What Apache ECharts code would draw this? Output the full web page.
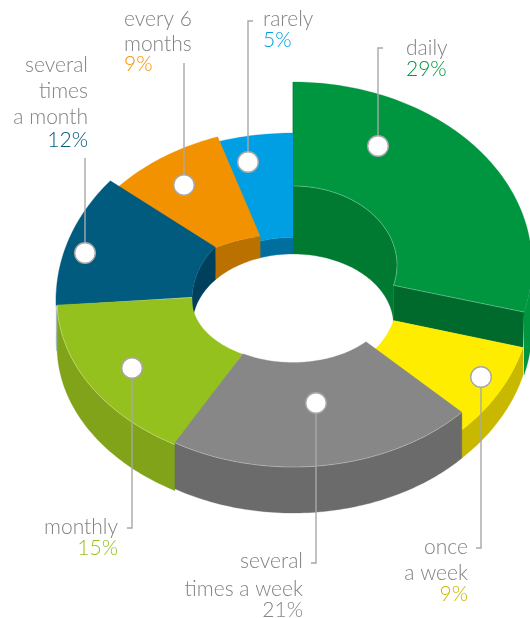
<!DOCTYPE html>
<html>
<head>
<meta charset="utf-8">
<style>html,body{margin:0;padding:0;background:#fff}#chart{width:530px;height:618px}</style>
<script src="https://cdn.jsdelivr.net/npm/echarts@6/dist/echarts.min.js"></script>
</head>
<body>
<div id="chart"></div>
<script>
// ---- data ----
var categories = ['daily', 'once\na week', 'several\ntimes a week', 'monthly', 'several\ntimes\na month', 'every 6\nmonths', 'rarely'];
var values = [29, 9, 21, 15, 12, 9, 5];

// ---- styles ----
var topColors   = ['#009640', '#ffed00', '#878787', '#95c11f', '#005b7f', '#f39200', '#009fe3'];
var outerColors = ['#009640', '#c8b800', '#6b6b6b', '#80a31a', '#7fa6ba', null, null];
var innerColors = ['#007a30', null, null, null, '#00405c', '#bb7100', '#006f9f'];
var pctColors   = ['#009640', '#c8b800', '#878787', '#95c11f', '#005b7f', '#f39200', '#009fe3'];
var sideColor = '#006a2c';
var textColor = '#828282';
var lineColor = '#a8a8a8';
var textFont = '300 21px Lato';
var baselineDrop = 4.5;

// ---- drawing geometry of the tilted ring ----
var CX = 293;
var hole = {cy: 325, rx: 100.5, ry: 71};
// o/i: outer and inner ellipse radii of the top face; nudges are small angle offsets in degrees
var shapes = [
  {cy: 265, o: [239, 183],   i: [104, 79],  ns: 0,    ne: 0.5, ins: 0,    ine: 0.5, base: 328, wallFrom: 90, holeMax: 90},
  {cy: 300, o: [238, 184.5], i: [104, 80],  ns: 0.5,  ne: -2,  ins: 0.5,  ine: -2,  base: 328},
  {cy: 300, o: [228, 167],   i: [98, 62.5], ns: -4.6, ne: -1.2, ins: -5,  ine: -1.7, base: 346},
  {cy: 300, o: [236, 167],   i: [101, 62.5], ns: -2.4, ne: 1.9, ins: -2.4, ine: 5.6, base: 346},
  {cy: 300, o: [237, 187],   i: [101, 83],  ns: 1.9,  ne: 0,   ins: 5.6,  ine: 0,   base: 338, wallFrom: 266, wallSpan: 4},
  {cy: 300, o: [231.3, 172.6], i: [127, 66], ns: 0,   ne: -1,  ins: 11.9, ine: 3},
  {cy: 300, o: [236, 167],   i: [98, 62.5], ns: -2,   ne: 0,   ins: -3,   ine: 0}
];
var drawOrder = [0, 6, 5, 4, 1, 3, 2];

// ---- callouts: dot, leader polyline, text baselines ----
var callouts = [
  {dot: [378, 146], line: [[378, 146], [378, 48], [383, 48]],   x: 406, align: 'left',  names: [54],           pct: 75},
  {dot: [481, 377], line: [[481, 377], [481, 548], [476, 548]], x: 468, align: 'right', names: [553, 579],      pct: 600},
  {dot: [316, 403], line: [[316, 403], [316, 563], [311, 563]], x: 303, align: 'right', names: [567, 595],      pct: 616},
  {dot: [132, 368], line: [[132, 368], [132, 528], [127, 528]], x: 118, align: 'right', names: [533],           pct: 554},
  {dot: [85, 253],  line: [[85, 253], [85, 158]],               x: 88,  align: 'right', names: [71, 97, 123],   pct: 146},
  {dot: [184, 185], line: [[184, 185], [184, 63]],              x: 124, align: 'left',  names: [25, 50],        pct: 70},
  {dot: [248, 162], line: [[248, 162], [248, 21], [253, 21]],   x: 263, align: 'left',  names: [25],            pct: 46}
];

// ---- helpers ----
var toDeg = function (v) { return echarts.number.linearMap(v, [0, 100], [0, 360]); };
var cum = [0];
values.forEach(function (v, i) { cum.push(cum[i] + v); });

function pt(theta, cy, r) {
  var a = theta * Math.PI / 180;
  return [CX + r[0] * Math.sin(a), cy - r[1] * Math.cos(a)];
}
function arc(from, to, cy, r) {
  var n = Math.max(2, Math.ceil(Math.abs(to - from))), out = [];
  for (var k = 0; k <= n; k++) out.push(pt(from + (to - from) * k / n, cy, r));
  return out;
}
function poly(points, fill) {
  return {type: 'polygon', shape: {points: points}, style: {fill: fill, stroke: fill, lineWidth: 0.3}};
}
function edge(points) {
  return {type: 'polyline', shape: {points: points}, style: {fill: null, stroke: 'rgba(255,255,255,0.4)', lineWidth: 0.7}};
}
function label(x, baseline, text, fill, align) {
  return {type: 'text', x: x, y: baseline + baselineDrop, style: {
    text: text, fill: fill, font: textFont, align: align, verticalAlign: 'bottom'
  }};
}

function renderSlice(params, api) {
  var idx = api.value(1);
  var s = shapes[idx];
  var a0 = toDeg(cum[idx]);
  var a1 = a0 + toDeg(api.value(0));
  var os = a0 + s.ns, oe = a1 + s.ne, is = a0 + s.ins, ie = a1 + s.ine;
  var kids = [];
  // inner wall (far side of the hole)
  if (innerColors[idx]) {
    var he = s.holeMax ? Math.min(oe, s.holeMax) : oe;
    kids.push(poly(arc(is, ie, s.cy, s.i).concat(arc(he, os, hole.cy, [hole.rx, hole.ry])), innerColors[idx]));
  }
  // outer wall
  if (outerColors[idx]) {
    var wf = s.wallFrom !== undefined ? s.wallFrom : os;
    var wt = s.wallSpan ? os + s.wallSpan : oe;
    kids.push(poly(arc(wf, wt, s.cy, s.o).concat(arc(wt, wf, s.base, s.o)), outerColors[idx]));
  }
  // raised slice: end face down to the neighbouring slice
  var next = shapes[(idx + 1) % shapes.length];
  if (s.cy !== next.cy) {
    kids.push(poly([pt(ie, s.cy, s.i), pt(oe, s.cy, s.o), pt(oe, next.cy, next.o), pt(ie, next.cy, next.i)], sideColor));
  }
  // top face
  var top = arc(os, oe, s.cy, s.o).concat(arc(ie, is, s.cy, s.i));
  kids.push(poly(top, topColors[idx]));
  if (idx === 0) {
    kids.push(edge(arc(is, ie, s.cy, s.i)));
    kids.push(edge([pt(ie, s.cy, s.i), pt(oe, s.cy, s.o)]));
  }
  if (idx === 2 || idx === 3) kids.push(edge(arc(os, oe, s.cy, s.o)));
  return {type: 'group', children: kids};
}

function renderCallout(params, api) {
  var idx = api.value(1);
  var c = callouts[idx];
  var kids = [
    {type: 'polyline', shape: {points: c.line}, style: {fill: null, stroke: lineColor, lineWidth: 1.4}},
    {type: 'circle', shape: {cx: c.dot[0], cy: c.dot[1], r: 10.3}, style: {fill: '#fff', stroke: lineColor, lineWidth: 1.4}}
  ];
  categories[idx].split('\n').forEach(function (t, k) {
    kids.push(label(c.x, c.names[k], t, textColor, c.align));
  });
  kids.push(label(c.x, c.pct, api.value(0) + '%', pctColors[idx], c.align));
  return {type: 'group', children: kids};
}

var chart = echarts.init(document.getElementById('chart'), null, {renderer: 'canvas'});
chart.setOption({
  animation: false,
  backgroundColor: '#ffffff',
  series: [
    {type: 'custom', coordinateSystem: 'none', z: 2, silent: true, renderItem: renderSlice,
     data: drawOrder.map(function (i) { return [values[i], i]; })},
    {type: 'custom', coordinateSystem: 'none', z: 3, silent: true, renderItem: renderCallout,
     data: values.map(function (v, i) { return [v, i]; })}
  ]
});
</script>
</body>
</html>
